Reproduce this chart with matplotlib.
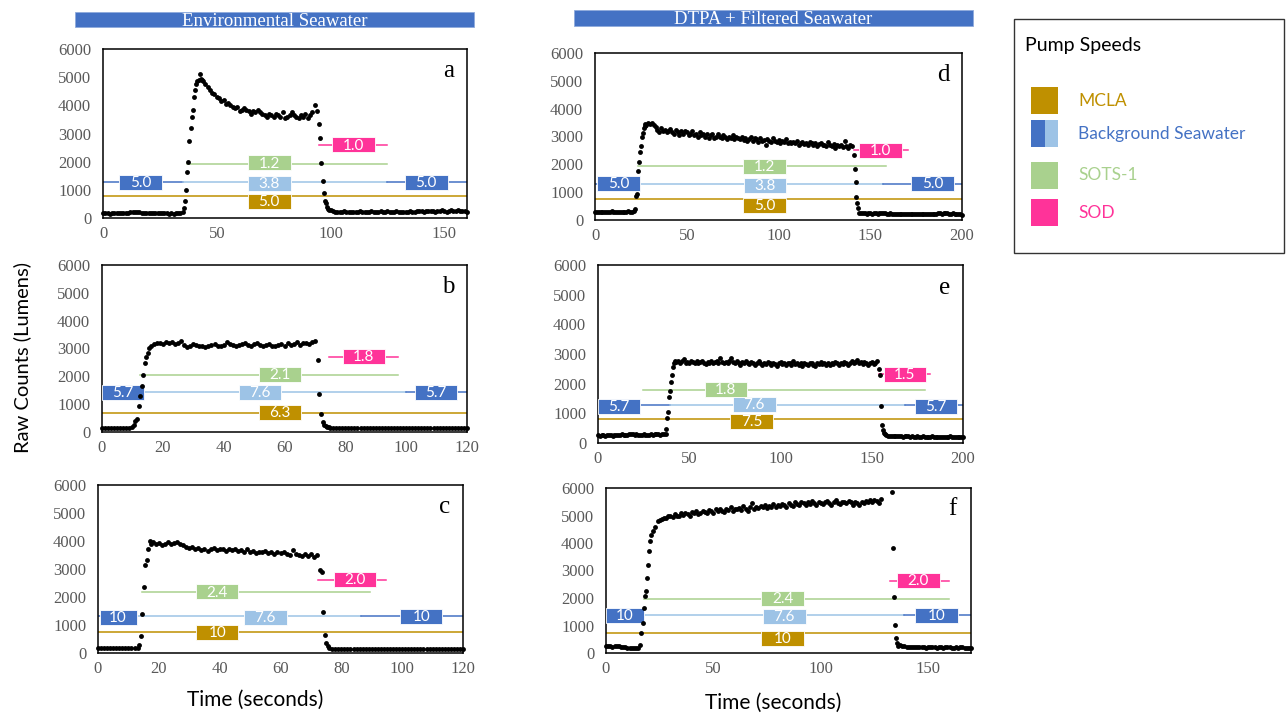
import numpy as np
import matplotlib
matplotlib.use("Agg")
import matplotlib.pyplot as plt
from matplotlib.patches import Rectangle

# ======================= DATA =======================
# Scatter data: segments of (start time, step, values)
a_base1 = [170,160,170,150,160,170,180,170,160,170,180,190,200,220,230,210,200,190,180,190,
           180,170,180,170,160,170,180,170,160,150,160,150,160,170,180,220]
a_rise = [350,600,1000,1650,2000,2750,3200,3600,3850,4300,4550,4750,4850,4900,5100,4950,4900,4850]
a_plat = [4750,4650,4550,4450,4400,4300,4250,4150,4200,4050,
          4100,4000,3950,3900,3950,3800,3850,3900,3850,3800,
          3700,3800,3750,3850,3750,3700,3650,3600,3700,3650,
          3600,3700,3650,3600,3750,3550,3600,3650,3750,3650,
          3600,3550,3650,3600,3700,3550,3650,3750,4000,3800]
a_fall = [3350,2850,1950,1300,900,600,520,400,330,300]
a_base2 = [280,250,230,220,210,220,240,230,220,210,
           200,220,230,240,220,210,230,220,240,230,
           220,230,240,220,230,240,230,220,230,240,
           230,220,210,220,230,240,230,220,240,250,
           240,230,240,250,260,240,230,250,260,270,
           240,230,260,280,250,240,270,260,240,250,230]

b_base1 = [150,140,150,160,150,140,150,150,160,150,170]
b_rise = [250,390,450,930,1300,1650,2060,2480,2700,2850,3020,3080]
b_plat = [3150,3180,3200,3150,3220,3180,3250,3170,3200,3280,3120,3050,3100,3150,3120,3100,3080,3050,3100,3120,
          3150,3100,3080,3120,3250,3150,3130,3100,3120,3150,3180,3120,3100,3150,3200,3130,3100,3120,3150,3100,
          3080,3120,3150,3100,3200,3120,3150,3250,3120,3180,3200,3150,3220,3280]
b_fall = [2600,1380,630,370,250,215,190,170,150]
b_base2 = [140,130,150,140,130,150,160,140,150,140,130,150,140,160,150,140,130,150,140,150,
           160,140,130,150,140,150,160,140,150,130,140,150,160,150,140,130,150,160,140,150,
           140,130,150,140,160]

c_base1 = [180,170,190,180,170,180,190,180,170,180,190,180,170,190]
c_rise = [300,590,1390,2350,3150,3330,3720,4000,3900]
c_plat = [3950,3900,3920,3850,3900,3950,3880,3920,3960,3900,3850,3800,3750,
          3780,3700,3750,3680,3720,3650,3700,3750,3680,3720,3700,3650,3720,3680,3700,
          3650,3680,3620,3700,3600,3650,3580,3620,3600,3650,3580,3600,3550,3620,3570,
          3600,3550,3500,3680,3550,3500,3450,3520,3480,3550,3420,3500]
c_fall = [2970,2890,1460,650,360,240,170]
c_base2 = [160,150,140,150,160,150,140,150,140,150,160,150,140,130,150,140,150,160,140,150,
           140,130,150,140,150,140,160,150,140,150,140,150,160,140,150,140,130,150,140,150,
           160,140,150,140]

d_base1 = [290,300,280,290,300,290,280,300,290,310,300,290,300,290,280,300,290,300,310,290,300,320]
d_rise = [380,860,920,1750,2100,2460,2670,3000,3120,3300,3380,3450]
d_plat = [3420,3480,3450,3500,3400,3350,3250,3150,3300,3200,
          3250,3150,3200,3280,3150,3100,3220,3150,3050,3200,
          3100,3180,3150,3050,3100,3200,3050,3100,3000,3150,
          3050,3100,3000,3100,2950,3050,3100,2950,3000,3080,
          3000,2950,3050,3000,2900,3000,2950,3050,2900,2980,
          2950,2900,3000,2880,2950,2850,2900,2980,2850,2950,
          2900,2800,2950,2850,2880,2700,2900,2850,2800,2950,
          2850,2800,2880,2750,2850,2800,2900,2750,2820,2780,
          2800,2750,2850,2700,2780,2800,2720,2760,2680,2800,
          2750,2700,2780,2650,2720,2760,2680,2700,2650,2800,
          2700,2650,2720,2600,2680,2650,2700,2620,2850,2660,
          2600,2700,2650]
d_fall = [2350,1830,1360,820,620,440,260]
d_base2 = [260,250,240,230,250,240,230,240,250,230,
           240,250,260,240,230,220,240,230,220,230,
           220,210,230,220,200,210,220,200,210,220,
           200,210,220,210,200,220,210,230,220,210,
           230,220,240,250,230,240,260,250,230,220,
           240,210,200,230,210,190]

e_base1 = [260,250,270,260,250,260,270,260,250,260,
           270,280,270,290,280,270,280,290,300,290,
           280,290,280,270,280,290,280,270,280,290,
           280,290,300,290,280,290,300,320]
e_rise = [480,850,1050,1550,1750,2050,2300,2550,2700,2780]
e_plat = [2720,2780,2700,2750,2820,2700,2740,2680,2760,2720,
          2700,2750,2680,2720,2780,2700,2660,2740,2700,2750,
          2680,2720,2760,2700,2850,2720,2680,2740,2700,2780,
          2880,2720,2680,2750,2700,2640,2720,2680,2750,2700,
          2660,2720,2680,2620,2700,2750,2680,2640,2700,2660,
          2720,2680,2620,2700,2660,2600,2680,2720,2650,2700,
          2640,2700,2680,2620,2750,2660,2700,2640,2680,2600,
          2700,2660,2620,2680,2700,2640,2600,2680,2660,2720,
          2650,2700,2640,2680,2620,2700,2660,2740,2680,2640,
          2700,2660,2720,2680,2640,2700,2760,2680,2720,2800,
          2700,2740,2660,2720,2680,2640,2700,2720,2660,2700,
          2750]
e_fall = [2510,2290,1240,600,430,350,290]
e_base2 = [270,250,240,230,240,230,220,230,220,210,
           220,230,220,210,220,200,210,220,210,200,
           220,210,200,190,210,220,200,210,190,200,
           210,200,190,210,200,220,190,200,210,190,
           200,210,190]

f_base1 = [250,240,250,230,240,250,240,230,220,230,200,190,180,190,180,200]
f_rise = [300,730,1090,1640,2080,2240,2730,3190,3700,4060,4300]
f_plat = [4450,4600,4790,4850,4870,4920,4900,4970,5000,4950,
          5050,4980,5000,5080,5020,5100,5050,5000,5120,5080,
          5150,5050,5100,5180,5120,5080,5200,5150,5100,5220,
          5150,5250,5180,5120,5230,5200,5300,5180,5250,5220,
          5280,5200,5350,5250,5180,5300,5450,5250,5320,5280,
          5350,5300,5400,5280,5350,5320,5420,5300,5380,5350,
          5420,5380,5300,5450,5400,5350,5480,5420,5380,5500,
          5450,5400,5480,5420,5520,5450,5400,5500,5460,5420,
          5480,5520,5450,5400,5500,5550,5460,5420,5500,5480,
          5450,5520,5480,5400,5500,5460,5380,5500,5450,5520,
          5480,5550,5500,5580,5520,5450,5600]
f_fall = [5840,3820,2040,1030,545,360,270]
f_base2 = [300,260,240,230,220,230,220,210,220,230,220,210,200,210,220,230,210,200,210,220,
           200,210,220,210,200,190,210,200,210,220,200,190,200,180]

a_segments = [(0, 1, a_base1), (35.5, 0.5, a_rise), (45, 1, a_plat), (95, 0.5, a_fall), (100, 1, a_base2)]
b_segments = [(0, 1, b_base1), (10.5, 0.5, b_rise), (17, 1, b_plat), (71, 0.5, b_fall), (76, 1, b_base2)]
c_segments = [(0, 1, c_base1), (13.5, 0.5, c_rise), (18, 1, c_plat), (73, 0.5, c_fall), (77, 1, c_base2)]
d_segments = [(0, 1, d_base1), (22, 0.5, d_rise), (28, 1, d_plat), (141, 0.5, d_fall), (145, 1, d_base2)]
e_segments = [(0, 1, e_base1), (37.5, 0.5, e_rise), (43, 1, e_plat), (154, 0.5, e_fall), (158, 1, e_base2)]
f_segments = [(0, 1, f_base1), (16, 0.5, f_rise), (22, 1, f_plat), (133, 0.5, f_fall), (137, 1, f_base2)]

# Pump speed labels: MCLA, BG left, BG middle, BG right, SOTS-1, SOD
a_speeds = ["5.0", "5.0", "3.8", "5.0", "1.2", "1.0"]
b_speeds = ["6.3", "5.7", "7.6", "5.7", "2.1", "1.8"]
c_speeds = ["10", "10", "7.6", "10", "2.4", "2.0"]
d_speeds = ["5.0", "5.0", "3.8", "5.0", "1.2", "1.0"]
e_speeds = ["7.5", "5.7", "7.6", "5.7", "1.8", "1.5"]
f_speeds = ["10", "10", "7.6", "10", "2.4", "2.0"]

# Line levels: MCLA, BG, SOTS-1, SOD
a_levels = [770, 1270, 1930, 2590]
b_levels = [680, 1445, 2030, 2700]
c_levels = [750, 1320, 2170, 2620]
d_levels = [760, 1300, 1930, 2500]
e_levels = [800, 1295, 1800, 2310]
f_levels = [740, 1370, 1950, 2630]

# Time spans: light BG, SOTS-1, SOD
a_spans = [(35, 125), (37, 125), (95, 125)]
b_spans = [(13.7, 100), (12.6, 97.4), (74.7, 97.2)]
c_spans = [(12.8, 86.6), (14.6, 89.3), (72.4, 94.8)]
d_spans = [(24.5, 157), (23.6, 158.5), (141, 170.5)]
e_spans = [(39.3, 168), (24.7, 179), (154, 182)]
f_spans = [(17.9, 139), (17.9, 159.6), (132.4, 159.6)]

y_ticks = [0, 1000, 2000, 3000, 4000, 5000, 6000]

# ======================= LAYOUT / STYLE =======================
W, H, DPI = 1286, 722, 100
MCLA_C = "#BF9000"
BG_DARK = "#4472C4"
BG_LIGHT = "#9DC3E6"
SOTS_C = "#A9D18E"
SOD_C = "#FF3399"
SERIF = ["Liberation Serif", "DejaVu Serif"]
SANS = ["Lato", "DejaVu Sans"]

# box centres (t, y) and widths in px
a_boxes = [(73, 585), (16.6, 1270), (73, 1230), (142, 1270), (73, 1955), (110, 2595)]
b_boxes = [(58.5, 705), (6.85, 1415), (51.8, 1415), (109.8, 1415), (58.5, 2060), (86, 2715)]
c_boxes = [(39.2, 720), (6.6, 1260), (55, 1280), (106.3, 1300), (39.2, 2180), (84.4, 2630)]
d_boxes = [(92.5, 520), (13, 1300), (92.5, 1255), (184, 1300), (92.5, 1935), (155.5, 2500)]
e_boxes = [(84.3, 740), (11.4, 1245), (85.5, 1300), (185, 1245), (70, 1800), (168, 2300)]
f_boxes = [(82.4, 525), (8.85, 1365), (83, 1320), (154, 1365), (82.4, 1990), (145.5, 2625)]
a_bw = [43, 43, 43, 43, 43, 43]
b_bw = [42, 42, 42, 42, 42, 42]
c_bw = [42, 37, 43, 42, 42, 42]
d_bw = [43, 43, 42, 43, 43, 43]
e_bw = [43, 42, 43, 42, 42, 42]
f_bw = [43, 38, 43, 43, 43, 43]

panels = [
    # letter, rect px (l, t, r, b), xmax, xticks, segments, speeds, levels, spans, boxes, widths
    ("a", (103, 49, 467, 218), 160, [0, 50, 100, 150], a_segments, a_speeds, a_levels, a_spans, a_boxes, a_bw),
    ("b", (102, 265, 467, 432), 120, [0, 20, 40, 60, 80, 100, 120], b_segments, b_speeds, b_levels, b_spans, b_boxes, b_bw),
    ("c", (98, 485, 463, 653), 120, [0, 20, 40, 60, 80, 100, 120], c_segments, c_speeds, c_levels, c_spans, c_boxes, c_bw),
    ("d", (595, 53, 962, 220), 200, [0, 50, 100, 150, 200], d_segments, d_speeds, d_levels, d_spans, d_boxes, d_bw),
    ("e", (598, 265, 963, 443), 200, [0, 50, 100, 150, 200], e_segments, e_speeds, e_levels, e_spans, e_boxes, e_bw),
    ("f", (606, 488, 971, 653), 170, [0, 50, 100, 150], f_segments, f_speeds, f_levels, f_spans, f_boxes, f_bw),
]

fig = plt.figure(figsize=(W / DPI, H / DPI), dpi=DPI)
fig.patch.set_facecolor("white")


def fx(x):
    return x / W


def fy(y):
    return 1 - y / H


def assemble(segments):
    ts, ys = [], []
    for t0, dt, vals in segments:
        ts.extend(t0 + dt * np.arange(len(vals)))
        ys.extend(vals)
    return np.array(ts), np.array(ys)


for letter, (l, t, r, b), xmax, xt, segs, speeds, levels, spans, boxes, bws in panels:
    ax = fig.add_axes([fx(l), fy(b), (r - l) / W, (b - t) / H])
    ax.set_xlim(0, xmax)
    ax.set_ylim(0, 6000)
    wpx, hpx = r - l, b - t
    lw = 1.1
    # MCLA line
    ax.plot([0, xmax], [levels[0], levels[0]], color=MCLA_C, lw=lw, zorder=2)
    # Background seawater
    ls, le = spans[0]
    ax.plot([0, ls], [levels[1]] * 2, color=BG_DARK, lw=lw, zorder=2)
    ax.plot([ls, le], [levels[1]] * 2, color=BG_LIGHT, lw=lw, zorder=2)
    ax.plot([le, xmax], [levels[1]] * 2, color=BG_DARK, lw=lw, zorder=2)
    # SOTS-1
    ax.plot(spans[1], [levels[2]] * 2, color=SOTS_C, lw=lw, zorder=2)
    # SOD
    ax.plot(spans[2], [levels[3]] * 2, color=SOD_C, lw=lw, zorder=2)

    box_cols = [MCLA_C, BG_DARK, BG_LIGHT, BG_DARK, SOTS_C, SOD_C]
    for (bt, byv), bw, col, lab in zip(boxes, bws, box_cols, speeds):
        dw = bw / wpx * xmax
        dh = 15 / hpx * 6000
        ax.add_patch(Rectangle((bt - dw / 2, byv - dh / 2), dw, dh, facecolor=col,
                               edgecolor="white", lw=0.6, zorder=3, clip_on=False))
        ax.text(bt, byv - 0.6 / hpx * 6000, lab, color="white", fontsize=11, family=SANS,
                ha="center", va="center", zorder=4)

    tt, yy = assemble(segs)
    ax.plot(tt, yy, "o", color="black", ms=3.5, mew=0, zorder=5, clip_on=False)

    ax.set_xticks(xt)
    ax.set_yticks(y_ticks)
    ax.tick_params(length=0, labelsize=12, labelcolor="#595959")
    ax.tick_params(axis="y", pad=8.5)
    ax.tick_params(axis="x", pad=6)
    for lab in ax.get_xticklabels() + ax.get_yticklabels():
        lab.set_family(SERIF)
    for sp in ax.spines.values():
        sp.set_linewidth(1.1)
        sp.set_color("black")
    ax.text(0.95, 0.87, letter, transform=ax.transAxes, fontsize=18, family=SERIF,
            ha="center", va="center")

# Title bars
for (x0, y0, x1, y1), title in [((75, 12, 474, 27), "Environmental Seawater"),
                                ((574, 10, 973, 26), "DTPA + Filtered Seawater")]:
    fig.patches.append(Rectangle((fx(x0), fy(y1)), (x1 - x0) / W, (y1 - y0) / H,
                                 transform=fig.transFigure, facecolor=BG_DARK,
                                 edgecolor="#8FAADC", lw=0.6))
    fig.text(fx((x0 + x1) / 2), fy((y0 + y1) / 2 + 1.5), title, color="white",
             fontsize=13.5, family=SERIF, ha="center", va="center")

# Axis labels
fig.text(fx(22), fy(358), "Raw Counts (Lumens)", rotation=90, fontsize=14.5,
         family=SANS, ha="center", va="center")
fig.text(fx(255), fy(700), "Time (seconds)", fontsize=15, family=SANS,
         ha="center", va="center")
fig.text(fx(773), fy(703), "Time (seconds)", fontsize=15, family=SANS,
         ha="center", va="center")

# Legend
fig.patches.append(Rectangle((fx(1014), fy(253)), (1284 - 1014) / W, (253 - 19) / H,
                             transform=fig.transFigure, facecolor="white",
                             edgecolor="#333333", lw=1.0))
fig.text(fx(1025), fy(46), "Pump Speeds", fontsize=14, family=SANS,
         ha="left", va="center")
legend_items = [("MCLA", [MCLA_C], 87, MCLA_C),
                ("Background Seawater", [BG_DARK, BG_LIGHT], 120, BG_DARK),
                ("SOTS-1", [SOTS_C], 162, SOTS_C),
                ("SOD", [SOD_C], 199, SOD_C)]
for name, cols, ytop, tcol in legend_items:
    n = len(cols)
    for i, c in enumerate(cols):
        w = 27 / n
        fig.patches.append(Rectangle((fx(1031 + i * w), fy(ytop + 27)), w / W, 27 / H,
                                     transform=fig.transFigure, facecolor=c, lw=0))
    fig.text(fx(1078), fy(ytop + 13.5), name, color=tcol, fontsize=12.5, family=SANS,
             ha="left", va="center")

fig.savefig("out.png", dpi=DPI)
